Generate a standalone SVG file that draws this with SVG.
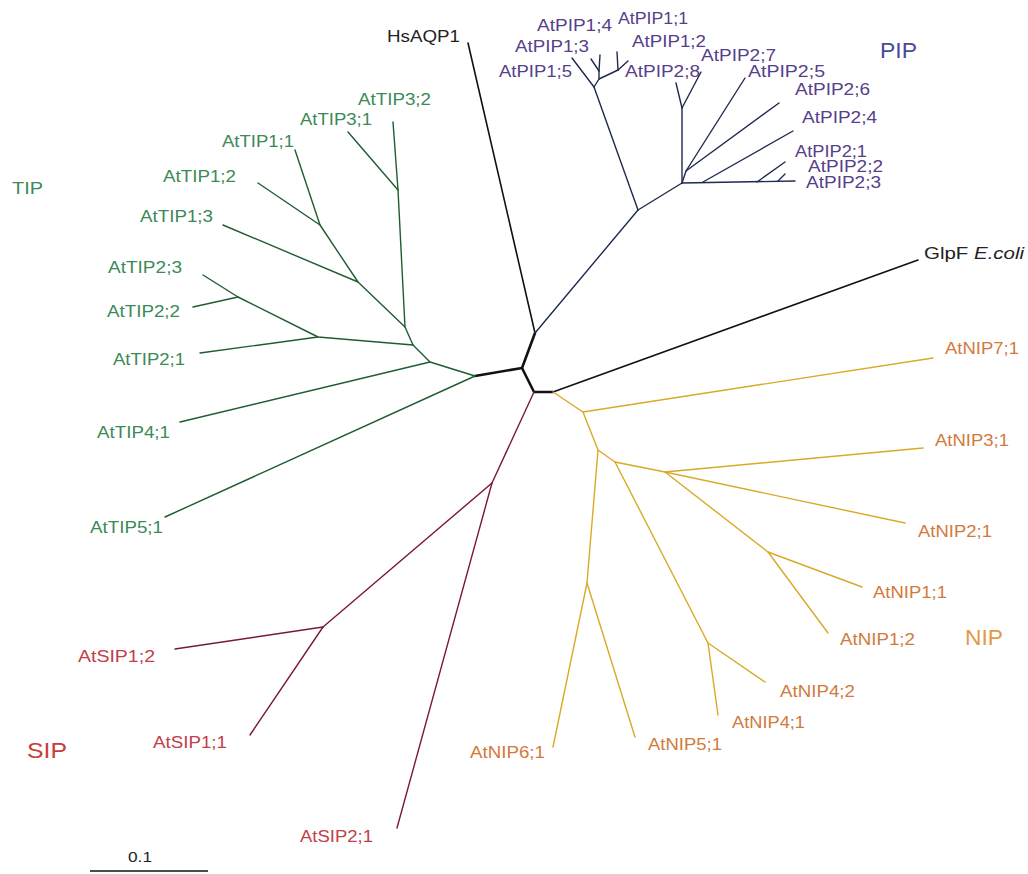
<svg xmlns="http://www.w3.org/2000/svg" width="1028" height="874" viewBox="0 0 1028 874">
<style>
text{font-family:"Liberation Sans",Arial,sans-serif;font-size:16px}
.pip{fill:#56408a}.tip{fill:#3b8a58}.sip{fill:#c0404a}.nip{fill:#d27a3c}.blk{fill:#222}
.hdr{font-size:22px}
.e{fill:none;stroke-linecap:round;stroke-linejoin:round;stroke-width:1.4}
.eb{stroke:#111;stroke-width:1.6}
.ehub{stroke:#111;stroke-width:2.6}
.ep{stroke:#1e2a50}.et{stroke:#1f5c30}.es{stroke:#7a1838}.en{stroke:#d8aa28}
</style>
<rect width="1028" height="874" fill="#fff"/>
<g id="connectors">
<polyline class="e ehub" points="475,376 522,368 535,333"/>
<polyline class="e ehub" points="522,368 534,392 553,392"/>
<line class="e eb" x1="535" y1="333" x2="468" y2="43"/>
<line class="e eb" x1="553" y1="392" x2="918" y2="260"/>
<line class="e ep" x1="535" y1="333" x2="638" y2="210"/>
<line class="e ep" x1="638" y1="210" x2="594" y2="87"/>
<line class="e ep" x1="594" y1="87" x2="572" y2="58"/>
<polyline class="e ep" points="594,87 599,79 599,71"/>
<line class="e ep" x1="599" y1="71" x2="591" y2="59"/>
<line class="e ep" x1="599" y1="71" x2="600" y2="55"/>
<line class="e ep" x1="599" y1="79" x2="618" y2="70"/>
<line class="e ep" x1="618" y1="70" x2="617" y2="52"/>
<line class="e ep" x1="618" y1="70" x2="628" y2="61"/>
<line class="e ep" x1="638" y1="210" x2="682" y2="183"/>
<line class="e ep" x1="682" y1="183" x2="682" y2="108"/>
<line class="e ep" x1="682" y1="108" x2="676" y2="83"/>
<line class="e ep" x1="682" y1="108" x2="701" y2="72"/>
<polyline class="e ep" points="682,183 686,171 745,78"/>
<line class="e ep" x1="686" y1="171" x2="779" y2="103"/>
<line class="e ep" x1="682" y1="183" x2="795" y2="181"/>
<line class="e ep" x1="703" y1="182" x2="793" y2="131"/>
<line class="e ep" x1="757" y1="182" x2="785" y2="162"/>
<line class="e ep" x1="778" y1="181" x2="785" y2="174"/>
<polyline class="e et" points="475,376 430,362 413,345"/>
<line class="e et" x1="430" y1="362" x2="180" y2="422"/>
<line class="e et" x1="475" y1="376" x2="165" y2="517"/>
<polyline class="e et" points="413,345 405,327 398,190 393,122"/>
<line class="e et" x1="398" y1="190" x2="348" y2="132"/>
<polyline class="e et" points="405,327 358,282 320,225 295,150"/>
<line class="e et" x1="320" y1="225" x2="258" y2="183"/>
<line class="e et" x1="358" y1="282" x2="223" y2="225"/>
<polyline class="e et" points="413,345 318,337 238,297 203,275"/>
<line class="e et" x1="238" y1="297" x2="193" y2="307"/>
<line class="e et" x1="318" y1="337" x2="200" y2="353"/>
<line class="e es" x1="534" y1="392" x2="492" y2="483"/>
<line class="e es" x1="492" y1="483" x2="397" y2="828"/>
<line class="e es" x1="492" y1="483" x2="323" y2="627"/>
<line class="e es" x1="323" y1="627" x2="175" y2="649"/>
<line class="e es" x1="323" y1="627" x2="250" y2="735"/>
<polyline class="e en" points="553,392 583,412 933,358"/>
<polyline class="e en" points="583,412 598,450 587,583 553,747"/>
<line class="e en" x1="587" y1="583" x2="635" y2="737"/>
<polyline class="e en" points="598,450 615,462 665,472 905,523"/>
<polyline class="e en" points="615,462 708,643 765,682"/>
<line class="e en" x1="708" y1="643" x2="718" y2="715"/>
<line class="e en" x1="665" y1="472" x2="923" y2="448"/>
<polyline class="e en" points="665,472 768,552 862,587"/>
<line class="e en" x1="768" y1="552" x2="828" y2="633"/>
<line x1="90" y1="871" x2="208" y2="871" stroke="#111" stroke-width="1.6"/>
</g>
<g id="n-HsAQP1"><text class="blk" x="387" y="42" textLength="73" lengthAdjust="spacingAndGlyphs">HsAQP1</text></g>
<g id="n-GlpF"><text class="blk" x="924" y="259" textLength="100" lengthAdjust="spacingAndGlyphs">GlpF <tspan font-style="italic">E.coli</tspan></text></g>
<g id="pip-labels">
<g id="n-AtPIP1-4"><text class="pip" x="537" y="31" textLength="75" lengthAdjust="spacingAndGlyphs">AtPIP1;4</text></g>
<g id="n-AtPIP1-1"><text class="pip" x="618" y="24" textLength="70" lengthAdjust="spacingAndGlyphs">AtPIP1;1</text></g>
<g id="n-AtPIP1-3"><text class="pip" x="515" y="52" textLength="74" lengthAdjust="spacingAndGlyphs">AtPIP1;3</text></g>
<g id="n-AtPIP1-2"><text class="pip" x="632" y="47" textLength="74" lengthAdjust="spacingAndGlyphs">AtPIP1;2</text></g>
<g id="n-AtPIP1-5"><text class="pip" x="499" y="77" textLength="73" lengthAdjust="spacingAndGlyphs">AtPIP1;5</text></g>
<g id="n-AtPIP2-8"><text class="pip" x="625" y="77" textLength="75" lengthAdjust="spacingAndGlyphs">AtPIP2;8</text></g>
<g id="n-AtPIP2-7"><text class="pip" x="701" y="61" textLength="75" lengthAdjust="spacingAndGlyphs">AtPIP2;7</text></g>
<g id="n-AtPIP2-5"><text class="pip" x="748" y="77" textLength="77" lengthAdjust="spacingAndGlyphs">AtPIP2;5</text></g>
<g id="n-AtPIP2-6"><text class="pip" x="795" y="95" textLength="75" lengthAdjust="spacingAndGlyphs">AtPIP2;6</text></g>
<g id="n-AtPIP2-4"><text class="pip" x="802" y="123" textLength="75" lengthAdjust="spacingAndGlyphs">AtPIP2;4</text></g>
<g id="n-AtPIP2-1"><text class="pip" x="795" y="157" textLength="72" lengthAdjust="spacingAndGlyphs">AtPIP2;1</text></g>
<g id="n-AtPIP2-2"><text class="pip" x="808" y="172" textLength="75" lengthAdjust="spacingAndGlyphs">AtPIP2;2</text></g>
<g id="n-AtPIP2-3"><text class="pip" x="806" y="188" textLength="75" lengthAdjust="spacingAndGlyphs">AtPIP2;3</text></g>
<g id="g-PIP"><text class="hdr" x="880" y="58" fill="#4a4a98" textLength="37" lengthAdjust="spacingAndGlyphs">PIP</text></g>
</g>
<g id="tip-labels">
<g id="n-AtTIP3-2"><text class="tip" x="358" y="105" textLength="73" lengthAdjust="spacingAndGlyphs">AtTIP3;2</text></g>
<g id="n-AtTIP3-1"><text class="tip" x="300" y="125" textLength="72" lengthAdjust="spacingAndGlyphs">AtTIP3;1</text></g>
<g id="n-AtTIP1-1"><text class="tip" x="222" y="147" textLength="72" lengthAdjust="spacingAndGlyphs">AtTIP1;1</text></g>
<g id="n-AtTIP1-2"><text class="tip" x="163" y="182" textLength="73" lengthAdjust="spacingAndGlyphs">AtTIP1;2</text></g>
<g id="n-AtTIP1-3"><text class="tip" x="140" y="222" textLength="73" lengthAdjust="spacingAndGlyphs">AtTIP1;3</text></g>
<g id="n-AtTIP2-3"><text class="tip" x="108" y="273" textLength="74" lengthAdjust="spacingAndGlyphs">AtTIP2;3</text></g>
<g id="n-AtTIP2-2"><text class="tip" x="107" y="317" textLength="73" lengthAdjust="spacingAndGlyphs">AtTIP2;2</text></g>
<g id="n-AtTIP2-1"><text class="tip" x="113" y="365" textLength="72" lengthAdjust="spacingAndGlyphs">AtTIP2;1</text></g>
<g id="n-AtTIP4-1"><text class="tip" x="97" y="438" textLength="73" lengthAdjust="spacingAndGlyphs">AtTIP4;1</text></g>
<g id="n-AtTIP5-1"><text class="tip" x="90" y="533" textLength="73" lengthAdjust="spacingAndGlyphs">AtTIP5;1</text></g>
<g id="g-TIP"><text class="tip" x="12" y="194" style="font-size:17px" textLength="31" lengthAdjust="spacingAndGlyphs">TIP</text></g>
</g>
<g id="sip-labels">
<g id="n-AtSIP1-2"><text class="sip" x="78" y="662" textLength="77" lengthAdjust="spacingAndGlyphs">AtSIP1;2</text></g>
<g id="n-AtSIP1-1"><text class="sip" x="153" y="748" textLength="74" lengthAdjust="spacingAndGlyphs">AtSIP1;1</text></g>
<g id="n-AtSIP2-1"><text class="sip" x="300" y="842" textLength="73" lengthAdjust="spacingAndGlyphs">AtSIP2;1</text></g>
<g id="g-SIP"><text class="hdr" x="27" y="758" fill="#c83c3c" textLength="40" lengthAdjust="spacingAndGlyphs">SIP</text></g>
</g>
<g id="nip-labels">
<g id="n-AtNIP7-1"><text class="nip" x="945" y="354" textLength="74" lengthAdjust="spacingAndGlyphs">AtNIP7;1</text></g>
<g id="n-AtNIP3-1"><text class="nip" x="935" y="446" textLength="74" lengthAdjust="spacingAndGlyphs">AtNIP3;1</text></g>
<g id="n-AtNIP2-1"><text class="nip" x="918" y="537" textLength="74" lengthAdjust="spacingAndGlyphs">AtNIP2;1</text></g>
<g id="n-AtNIP1-1"><text class="nip" x="873" y="598" textLength="74" lengthAdjust="spacingAndGlyphs">AtNIP1;1</text></g>
<g id="n-AtNIP1-2"><text class="nip" x="840" y="645" textLength="75" lengthAdjust="spacingAndGlyphs">AtNIP1;2</text></g>
<g id="n-AtNIP4-2"><text class="nip" x="780" y="697" textLength="75" lengthAdjust="spacingAndGlyphs">AtNIP4;2</text></g>
<g id="n-AtNIP4-1"><text class="nip" x="732" y="728" textLength="73" lengthAdjust="spacingAndGlyphs">AtNIP4;1</text></g>
<g id="n-AtNIP5-1"><text class="nip" x="648" y="750" textLength="74" lengthAdjust="spacingAndGlyphs">AtNIP5;1</text></g>
<g id="n-AtNIP6-1"><text class="nip" x="470" y="758" textLength="75" lengthAdjust="spacingAndGlyphs">AtNIP6;1</text></g>
<g id="g-NIP"><text class="hdr" x="965" y="645" fill="#e09a4a" textLength="38" lengthAdjust="spacingAndGlyphs">NIP</text></g>
</g>
<g id="scale"><text class="blk" x="128" y="862" style="font-size:15px" textLength="24" lengthAdjust="spacingAndGlyphs">0.1</text></g>
</svg>
